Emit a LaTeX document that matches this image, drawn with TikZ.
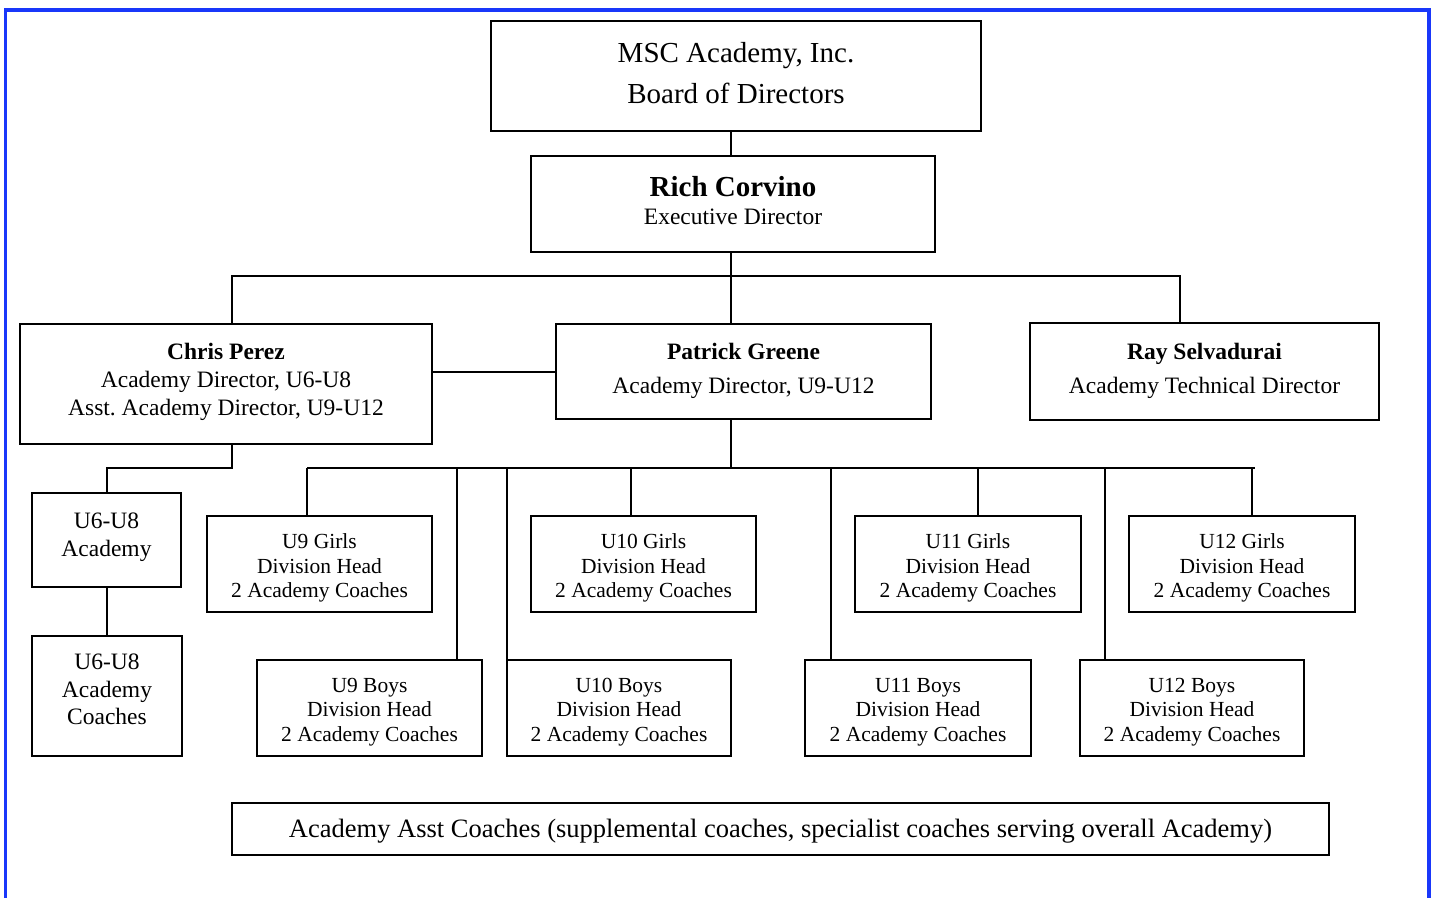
\documentclass[tikz,border=0pt]{standalone}
\usepackage{fontspec}
\setmainfont{Liberation Serif}
\frenchspacing
\definecolor{bordblue}{RGB}{25,55,250}
\tikzset{
  box/.style={draw, line width=2pt, inner sep=0pt},
  conn/.style={line width=2pt},
  midfont/.style={font=\fontsize{23.5}{28}\selectfont},
  divfont/.style={font=\fontsize{21.5}{24.5}\selectfont},
  boxtext/.style={inner sep=0pt, align=center},
}
% #1 name, #2-#5 corners (x1,y1,x2,y2 in px, y down), #6 text, #7 text style, #8 vertical text shift
\newcommand\bx[8]{%
  \node[box, minimum width={(#4-#2)*1pt}, minimum height={(#5-#3)*1pt}] (#1) at ({(#2+#4)/2},{-(#3+#5)/2}) {};
  \node[boxtext,#7] (#1-t) at ([yshift=#8]#1.center) {#6};}
\begin{document}
\begin{tikzpicture}[x=1pt,y=1pt]
\useasboundingbox (0,0) rectangle (1435,-897);
\draw[bordblue, line width=3.6pt] (5.5,-905) -- (5.5,-10) -- (1428.7,-10) -- (1428.7,-905);

\bx{board}{491}{21}{981}{131}{MSC Academy, Inc.\\Board of Directors}{font=\fontsize{29}{41}\selectfont}{3pt}
\bx{rich}{531}{156}{935}{252}{{\fontsize{29}{28}\selectfont\bfseries Rich Corvino}\\Executive Director}{midfont}{3.5pt}
\bx{chris}{20}{324}{432}{444}{\textbf{Chris Perez}\\Academy Director, U6-U8\\Asst. Academy Director, U9-U12}{midfont}{2pt}
\bx{patrick}{556}{324}{931}{419}{\textbf{Patrick Greene}\\[6pt]Academy Director, U9-U12}{midfont}{1pt}
\bx{ray}{1030}{323}{1379}{420}{\textbf{Ray Selvadurai}\\[6pt]Academy Technical Director}{midfont}{1pt}
\bx{acad}{32}{493}{181}{587}{U6-U8\\Academy}{midfont}{3pt}
\bx{acoach}{32}{636}{182}{756}{U6-U8\\Academy\\Coaches}{font=\fontsize{23.5}{27.5}\selectfont}{6.5pt}
\bx{ug9}{207}{516}{432}{612}{U9 Girls\\Division Head\\2 Academy Coaches}{divfont}{-4pt}
\bx{ug10}{531}{516}{756}{612}{U10 Girls\\Division Head\\2 Academy Coaches}{divfont}{-4pt}
\bx{ug11}{855}{516}{1081}{612}{U11 Girls\\Division Head\\2 Academy Coaches}{divfont}{-4pt}
\bx{ug12}{1129}{516}{1355}{612}{U12 Girls\\Division Head\\2 Academy Coaches}{divfont}{-4pt}
\bx{ub9}{257}{660}{482}{756}{U9 Boys\\Division Head\\2 Academy Coaches}{divfont}{-4pt}
\bx{ub10}{507}{660}{731}{756}{U10 Boys\\Division Head\\2 Academy Coaches}{divfont}{-4pt}
\bx{ub11}{805}{660}{1031}{756}{U11 Boys\\Division Head\\2 Academy Coaches}{divfont}{-4pt}
\bx{ub12}{1080}{660}{1304}{756}{U12 Boys\\Division Head\\2 Academy Coaches}{divfont}{-4pt}
\bx{asst}{232}{803}{1329}{855}{Academy Asst Coaches (supplemental coaches, specialist coaches serving overall Academy)}{font=\fontsize{26.5}{30}\selectfont}{-2pt}

% top connectors
\coordinate (t0) at (731,-276);
\coordinate (tL) at (232,-276);
\coordinate (tR) at (1180,-276);
\draw[conn] (board.south -| t0) -- (rich.north -| t0);
\draw[conn] (rich.south -| t0) -- (patrick.north -| t0);
\draw[conn] (chris.north -| tL) -- (tL) -- (tR) -- (ray.north -| tR);
\coordinate (cp) at (0,-372);
\draw[conn] (chris.east |- cp) -- (patrick.west |- cp);
% Chris to U6-U8
\coordinate (cL) at (232,-468);
\coordinate (aL) at (107,-468);
\draw[conn] (chris.south -| cL) -- (cL) -- (aL) -- (acad.north -| aL);
\draw[conn] (acad.south -| aL) -- (acoach.north -| aL);
% Patrick to divisions
\coordinate (b0) at (731,-468);
\coordinate (bL) at (307,-468);
\coordinate (bR) at (1255,-468);
\draw[conn] (patrick.south -| b0) -- (b0);
\draw[conn] (bL) -- (bR);
\draw[conn] (bL) -- (ug9.north -| bL);
\coordinate (d2) at (457,-468);
\draw[conn] (d2) -- (ub9.north -| d2);
\coordinate (d3) at (507,-468);
\draw[conn] (d3) -- (ub10.north -| d3);
\coordinate (d4) at (631,-468);
\draw[conn] (d4) -- (ug10.north -| d4);
\coordinate (d5) at (831,-468);
\draw[conn] (d5) -- (ub11.north -| d5);
\coordinate (d6) at (978,-468);
\draw[conn] (d6) -- (ug11.north -| d6);
\coordinate (d7) at (1105,-468);
\draw[conn] (d7) -- (ub12.north -| d7);
\coordinate (d8) at (1252,-468);
\draw[conn] (d8) -- (ug12.north -| d8);
\end{tikzpicture}
\end{document}
